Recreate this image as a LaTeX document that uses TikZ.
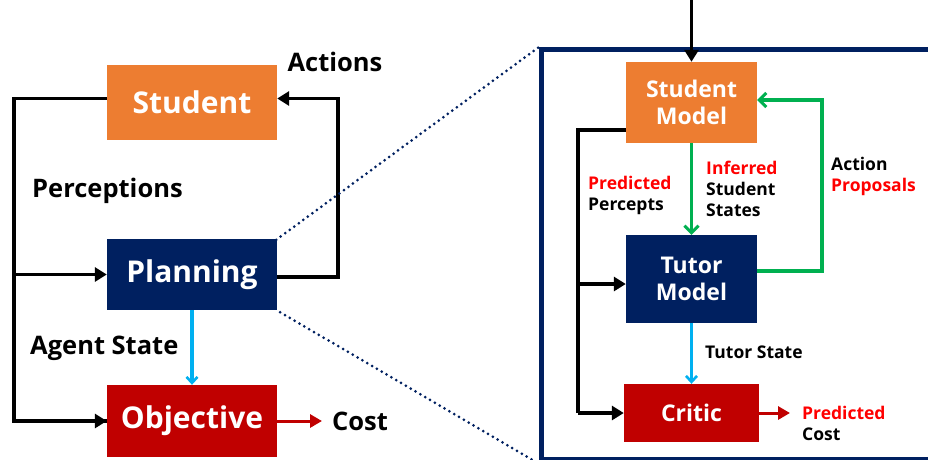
\documentclass[tikz,border=0pt]{standalone}
\usepackage{fontspec}
\setmainfont{Open Sans}
\usetikzlibrary{arrows.meta,calc}
\definecolor{navy}{HTML}{002060}
\definecolor{orng}{HTML}{ED7D31}
\definecolor{dred}{HTML}{C00000}
\definecolor{sky}{HTML}{00B0F0}
\definecolor{grn}{HTML}{00B050}
\definecolor{rtext}{HTML}{FF0000}
\tikzset{
  box/.style={rectangle, inner sep=0pt, text=white, align=center, font=\bfseries},
  bigfont/.style={font=\fontsize{30}{32}\selectfont\bfseries},
  medfont/.style={font=\fontsize{23}{27}\selectfont\bfseries},
  lbl/.style={font=\fontsize{25.5}{28}\selectfont\bfseries, inner sep=0pt},
  slbl/.style={font=\fontsize{17.5}{21}\selectfont\bfseries, inner sep=0pt, align=left, anchor=west},
  blk/.style={line width=3.8pt, black},
  blkarr/.style={blk, -{Triangle[length=12pt,width=14pt]}},
  grnarr/.style={line width=3.5pt, grn, -{Straight Barb[length=7pt,width=14pt,line width=3pt]}},
  skyarr/.style={line width=3.2pt, sky, -{Straight Barb[length=6pt,width=11pt,line width=2.6pt]}},
  redarr/.style={line width=3pt, dred, -{Triangle[length=12pt,width=13pt]}},
  dots/.style={navy, line width=3pt, line cap=round, dash pattern=on 0pt off 5.6pt},
}
\begin{document}
\begin{tikzpicture}[x=1pt,y=-1pt]
\useasboundingbox (0,0) rectangle (928,459);
% left boxes
\node[box, bigfont, fill=orng, minimum width=170pt, minimum height=75pt] (stud) at (192,102.5) {Student};
\node[box, bigfont, fill=navy, minimum width=170pt, minimum height=71pt] (plan) at (192,274.5) {Planning};
\node[box, bigfont, fill=dred, minimum width=170pt, minimum height=72pt] (obj) at (192,421) {Objective};
\coordinate (lx) at (14,0);
\coordinate (rx) at (338,0);
\draw[blk] ([yshift=4pt]stud.west) -- ([yshift=4pt]stud.west -| lx) |- (obj.west);
\draw[blkarr] (lx |- obj.west) -- (obj.west);
\draw[blkarr] (lx |- plan.west) -- (plan.west);
\draw[blkarr] ([yshift=-2.5pt]plan.east) -| ([yshift=4pt]rx |- stud.east) -- ([yshift=4pt]stud.east);
\draw[skyarr] (plan.south) -- (obj.north);
\node[lbl, anchor=west] (cost) at (332,421) {Cost};
\draw[redarr] (obj.east) -- ([xshift=-10pt]cost.west);
\node[lbl] (act) at (335,62) {Actions};
\node[lbl, anchor=west] (perc) at (32,191) {Perceptions};
\node[lbl, anchor=west] (ags) at (30,348) {Agent State};
% zoom frame
\node[draw=navy, line width=4.5pt, minimum width=400pt, minimum height=410pt, anchor=north west, inner sep=0pt] (frame) at (539,47) {};
\draw[dots] ([xshift=-1pt,yshift=-1pt]plan.north east) -- (frame.north west);
\draw[dots] ([xshift=3pt,yshift=-2pt]plan.south east) -- ([xshift=-4pt]frame.south west);
% right boxes
\node[box, medfont, fill=orng, minimum width=131pt, minimum height=81pt] (smod) at (691.5,102.5) {Student\\Model};
\node[box, medfont, fill=navy, minimum width=131pt, minimum height=88pt] (tmod) at (691.5,279) {Tutor\\Model};
\node[box, medfont, fill=dred, minimum width=135pt, minimum height=58pt] (crit) at (691.5,413) {Critic};
\coordinate (top) at (691.5,0);
\draw[blkarr] (top) -- (smod.north);
\coordinate (ix) at (578,0);
\draw[blk] ([yshift=-27.5pt]smod.west) -| (ix |- crit.west);
\draw[blkarr] (ix |- crit.west) -- (crit.west);
\draw[blkarr] ([yshift=-5pt]ix |- tmod.west) -- ([yshift=-5pt]tmod.west);
\draw[grnarr] (smod.south) -- (tmod.north);
\coordinate (gx) at (822,0);
\draw[grnarr] ([yshift=8pt]tmod.east) -| ([yshift=2.5pt]gx |- smod.east) -- ([yshift=2.5pt]smod.east);
\draw[skyarr] (tmod.south) -- (crit.north);
\node[slbl] (pcost) at (802,423) {\textcolor{rtext}{Predicted}\\Cost};
\draw[redarr] (crit.east) -- ([xshift=-12pt]pcost.west |- crit.east);
\node[slbl] (pperc) at (588,195) {\textcolor{rtext}{Predicted}\\Percepts};
\node[slbl] (infer) at (706,189) {\textcolor{rtext}{Inferred}\\Student\\States};
\node[slbl] (aprop) at (831,176) {Action\\\textcolor{rtext}{Proposals}};
\node[slbl] (tstate) at (705,352) {Tutor State};
\end{tikzpicture}
\end{document}
